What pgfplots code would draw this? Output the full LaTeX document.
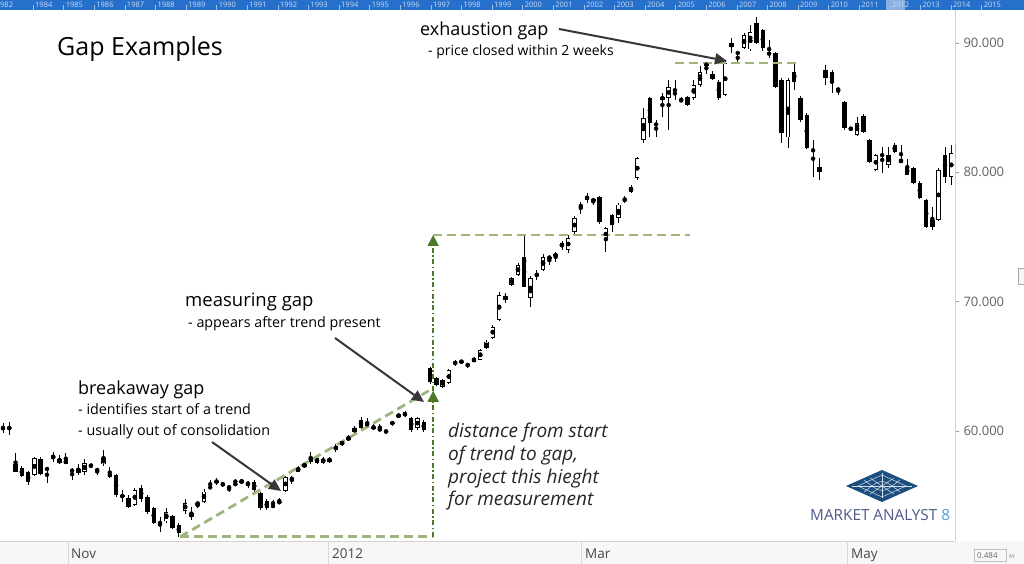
\documentclass[border=0pt]{standalone}
\usepackage{fontspec}
\setmainfont{Open Sans}
\usepackage{pgfplots}
\pgfplotsset{compat=1.18}
\usepackage{pgfplotstable}
\usetikzlibrary{arrows.meta}

\definecolor{lightgreen}{RGB}{158,182,126}
\definecolor{darkgreen}{RGB}{78,122,40}
\definecolor{arrowgray}{RGB}{55,55,55}
\definecolor{bandblue}{RGB}{38,112,204}
\definecolor{logoblue}{RGB}{28,78,128}
\definecolor{logotext}{RGB}{78,90,140}
\definecolor{logoeight}{RGB}{88,152,210}

\pgfplotstableread{
k o h l c
0 60.25 60.6 59.8 60.2
1 60.2 60.7 59.7 60.25
2 57.4 58.3 56.8 56.8
3 57.1 57.3 56.4 56.5
4 56.8 56.9 55.8 56.05
5 56.6 58.0 56.5 57.9
6 57.8 58.0 56.6 56.7
7 57.1 57.2 56.0 57.0
8 58.1 58.4 57.6 57.8
9 57.5 58.1 57.4 57.8
10 57.45 58.3 57.4 57.75
11 56.95 57.1 56.2 56.9
12 57.05 57.4 56.6 56.75
13 56.8 57.8 56.6 57.5
14 57.4 57.5 57.1 57.2
15 57.0 57.1 56.6 56.95
16 57.4 58.5 57.3 57.9
17 56.7 57.2 56.35 56.45
18 56.6 56.7 54.9 55.0
19 55.0 55.4 54.5 54.9
20 54.8 55.0 54.0 54.1
21 54.3 55.6 54.2 55.4
22 55.6 55.8 54.5 54.7
23 54.9 55.0 53.6 53.7
24 54.0 54.1 52.8 52.9
25 52.9 53.3 52.2 52.85
26 53.0 54.0 52.9 53.7
27 53.4 53.5 52.4 52.5
28 52.7 52.9 51.8 52.1
29 53.8 54.7 53.6 54.4
30 53.65 54.1 53.1 53.3
31 54.3 54.5 54.0 54.45
32 54.5 55.5 54.4 55.3
33 55.65 56.2 55.55 55.6
34 56.1 56.35 55.8 56.05
35 55.9 56.05 55.65 55.85
36 55.66 55.7 55.3 55.62
37 55.9 56.3 55.85 55.85
38 56.0 56.3 55.9 56.15
39 55.95 56.15 55.6 55.9
40 56.05 56.2 55.25 55.45
41 55.2 55.3 53.9 54.0
42 54.6 54.7 53.9 54.0
43 54.2 54.65 54.15 54.16
44 54.5 54.8 54.35 54.45
45 55.35 56.5 55.3 56.45
46 56.2 56.5 55.9 56.35
47 56.85 57.3 56.8 57.15
48 57.2 57.6 57.1 57.45
49 58.0 58.4 57.4 57.6
50 57.9 58.0 57.4 57.5
51 57.55 58.0 57.4 57.85
52 57.6 58.0 57.5 57.85
53 58.5 59.0 58.4 58.85
54 58.9 59.3 58.8 59.2
55 59.3 59.7 59.2 59.5
56 59.9 60.4 59.8 60.2
57 60.85 61.1 60.1 60.2
58 60.7 61.0 60.2 60.3
59 60.27 60.5 60.05 60.23
60 60.12 60.5 60.0 60.08
61 59.97 60.0 59.9 59.93
62 60.62 60.8 60.4 60.58
63 61.1 61.35 61.0 61.25
64 61.4 61.5 61.1 61.15
65 61.0 61.1 59.95 60.05
66 60.2 61.1 60.1 61.0
67 60.7 60.8 59.9 60.05
68 64.85 64.95 63.65 63.8
69 64.1 64.2 63.45 63.55
70 63.4 64.0 63.35 63.95
71 63.7 64.8 63.6 64.7
72 65.27 65.45 65.05 65.23
73 65.4 65.45 65.25 65.3
74 65.12 65.25 64.9 65.08
75 65.35 65.7 65.3 65.6
76 65.5 66.35 65.45 66.25
77 66.4 67.0 66.3 66.9
78 67.2 68.2 67.1 68.05
79 68.6 70.7 68.5 70.5
80 70.1 70.7 69.9 70.45
81 71.3 71.9 71.2 71.8
82 72.05 72.95 72.0 72.85
83 73.45 75.15 71.1 71.15
84 70.3 72.0 69.6 71.8
85 72.07 72.45 71.7 72.03
86 72.45 73.7 72.35 73.45
87 73.42 73.6 72.8 73.38
88 73.62 73.85 73.05 73.58
89 74.2 74.7 74.0 74.55
90 74.0 75.15 73.75 74.9
91 75.4 76.6 75.2 76.45
92 77.42 77.7 76.8 77.38
93 78.2 78.4 77.65 77.85
94 77.87 78.0 77.5 77.83
95 78.1 78.2 76.0 76.15
96 74.75 75.8 73.85 75.7
97 76.7 76.8 75.4 75.9
98 76.5 77.6 76.1 77.5
99 77.87 78.2 77.6 77.83
100 78.5 79.0 78.4 78.85
101 79.55 81.2 79.4 81.1
102 82.5 85.0 82.3 84.2
103 85.75 85.8 82.7 83.8
104 83.72 84.05 82.7 83.68
105 85.6 86.1 84.3 85.85
106 85.75 87.1 83.3 86.6
107 86.12 87.1 85.6 86.08
108 85.57 85.8 85.4 85.53
109 85.8 85.9 85.1 85.2
110 85.75 87.1 85.6 86.75
111 86.75 88.2 86.6 87.75
112 88.3 88.5 87.6 88.35
113 87.6 87.8 87.1 87.2
114 87.0 87.1 85.6 85.75
115 86.0 88.6 85.9 88.45
116 89.7 90.4 89.25 90.0
117 89.2 89.25 88.45 89.25
118 89.6 90.8 89.5 90.6
119 89.5 91.4 89.4 90.85
120 91.55 92.0 89.9 90.0
121 91.0 91.1 89.4 89.6
122 89.3 90.2 88.85 89.05
123 89.2 89.3 86.5 86.6
124 87.1 87.3 82.3 83.0
125 82.7 87.3 81.9 87.1
126 87.75 88.5 86.4 87.0
127 85.75 85.9 83.9 84.05
128 84.45 84.6 81.8 81.9
129 81.72 82.5 79.6 81.68
130 80.4 81.1 79.4 80.0
131 87.9 88.3 86.75 87.3
132 87.75 87.9 86.1 86.9
133 86.5 86.6 86.0 86.3
134 85.45 85.5 83.3 83.45
135 83.45 83.5 83.2 83.3
136 82.9 84.3 82.8 83.8
137 84.35 84.5 83.0 83.1
138 82.5 82.6 80.7 80.8
139 80.2 81.45 80.1 81.35
140 81.4 81.95 79.95 81.25
141 80.55 81.95 80.35 81.35
142 82.1 82.25 81.5 81.55
143 80.75 82.1 80.7 81.0
144 80.4 81.0 79.8 79.8
145 80.3 80.4 79.1 79.15
146 79.2 79.3 77.9 78.0
147 77.85 77.9 75.7 75.8
148 76.3 77.3 75.5 75.8
149 76.3 80.3 76.2 80.2
150 81.35 81.95 79.2 79.65
151 79.65 82.1 79.0 81.5
152 81.0 82.3 80.8 82.2
}\candles

\begin{document}
\begin{tikzpicture}
\useasboundingbox (0,0) rectangle (1024bp,564bp);
\fill[white] (0,0) rectangle (1024bp,564bp);
% bottom strip background
\fill[black!3] (0,0) rectangle (1024bp,23bp);

\begin{axis}[
  at={(0bp,23bp)}, anchor=south west,
  width=955bp, height=531bp, scale only axis,
  xmin=-0.48, xmax=151.6, ymin=51.48, ymax=92.55,
  axis x line*=bottom, axis y line*=right,
  axis line style={black!18, line width=0.8bp},
  xtick=\empty,
  ytick={60,70,80,90},
  tick align=outside,
  major tick length=4bp,
  ytick style={black!40, line width=0.6bp},
  yticklabel style={text=black!62, font=\fontsize{13bp}{15bp}\selectfont,
    /pgf/number format/fixed, /pgf/number format/fixed zerofill,
    /pgf/number format/precision=3, /pgf/number format/assume math mode=true,
    xshift=1bp},
]
% wicks
\addplot[only marks, mark=none,
  error bars/.cd, y dir=both, y explicit, error mark=none,
  error bar style={black, line width=0.8bp}]
  table[x=k, y expr={(\thisrow{h}+\thisrow{l})/2},
        y error expr={(\thisrow{h}-\thisrow{l})/2}] {\candles};
% bodies (black)
\addplot[only marks, mark=none,
  error bars/.cd, y dir=both, y explicit, error mark=none,
  error bar style={black, line width=4.4bp}]
  table[x=k, y expr={(\thisrow{o}+\thisrow{c})/2},
        y error expr={max(abs(\thisrow{o}-\thisrow{c})/2,0.045)}] {\candles};
% hollow interior for rising candles
\addplot[only marks, mark=none,
  restrict expr to domain={\thisrow{c}-\thisrow{o}}{0.14:100},
  error bars/.cd, y dir=both, y explicit, error mark=none,
  error bar style={white, line width=2.8bp}]
  table[x=k, y expr={(\thisrow{o}+\thisrow{c})/2},
        y error expr={abs(\thisrow{c}-\thisrow{o})/2-0.065}] {\candles};

% measurement construction lines
\addplot[lightgreen, line width=2.8bp, dash pattern=on 9bp off 5bp]
  coordinates {(28.2,51.8) (68.5,51.8)};
\addplot[lightgreen, line width=2.8bp, dash pattern=on 9bp off 5bp]
  coordinates {(28.2,51.8) (67.8,63.1)};
\addplot[lightgreen, line width=2.8bp, dash pattern=on 9bp off 5bp]
  coordinates {(68.5,75.15) (109.4,75.15)};
\addplot[lightgreen, line width=2.8bp, dash pattern=on 9bp off 5bp]
  coordinates {(107.0,88.45) (126.9,88.45)};
\addplot[darkgreen, line width=1.8bp, dash pattern=on 5bp off 2.5bp on 1.5bp off 2.5bp,
  -{Triangle[length=11bp,width=11bp]}]
  coordinates {(68.5,51.8) (68.5,63.1)};
\addplot[darkgreen, line width=1.8bp, dash pattern=on 5bp off 2.5bp on 1.5bp off 2.5bp,
  -{Triangle[length=11bp,width=11bp]}]
  coordinates {(68.5,63.1) (68.5,75.15)};
\end{axis}

% top timeline band
\fill[bandblue] (0,554bp) rectangle (1024bp,564bp);
\fill[white, opacity=0.45] (886bp,554bp) rectangle (905bp,564bp);
\node[anchor=base west, inner sep=0, text=white!75!bandblue,
  font=\fontsize{7.5bp}{8bp}\selectfont] at (0bp,556bp) {982};
\foreach \yr [count=\i from 0] in {1984,...,2015}{
  \draw[white!55!bandblue, line width=0.4bp] ({(33+\i*30.6)*1bp},554bp) -- ++(0,5bp);
  \node[anchor=base west, inner sep=0, text=white!75!bandblue,
    font=\fontsize{7.5bp}{8bp}\selectfont] at ({(35+\i*30.6)*1bp},556bp) {\yr};
}

% bottom strip separators and month labels
\foreach \px in {68,328,581,847}{
  \draw[black!15, line width=0.8bp] (\px bp,0) -- (\px bp,23bp);
}
\begin{scope}[every node/.style={anchor=base west, inner sep=0, text=black!72,
    font=\fontsize{13.5bp}{15bp}\selectfont}]
\node at (71bp,5.5bp) {Nov};
\node at (332bp,5.5bp) {2012};
\node at (585bp,5.5bp) {Mar};
\node at (851bp,5.5bp) {May};
\end{scope}
\draw[black!25, line width=0.6bp] (974bp,3bp) rectangle (1006bp,15bp);
\node[anchor=base west, inner sep=0, text=black!60, font=\fontsize{8bp}{9bp}\selectfont]
  at (977bp,5.5bp) {0.484};
\node[anchor=base west, inner sep=0, text=black!60, font=\fontsize{5bp}{6bp}\selectfont]
  at (1009bp,6bp) {XY};
% small tab at right edge
\draw[black!35, line width=0.6bp, fill=black!4] (1024bp,296bp) -- (1018bp,296bp) -- (1018bp,280bp) -- (1024bp,280bp);

% title and annotation texts
\node[anchor=base west, inner sep=0, font=\fontsize{25bp}{29bp}\selectfont] at (57bp,508bp) {Gap Examples};
\node[anchor=base west, inner sep=0, font=\fontsize{18bp}{22bp}\selectfont] at (420bp,528bp) {exhaustion gap};
\node[anchor=base west, inner sep=0, font=\fontsize{14bp}{16bp}\selectfont] at (428bp,508bp) {- price closed within 2 weeks};
\node[anchor=base west, inner sep=0, font=\fontsize{18.5bp}{22bp}\selectfont] at (185bp,257bp) {measuring gap};
\node[anchor=base west, inner sep=0, font=\fontsize{14.3bp}{16bp}\selectfont] at (188bp,236bp) {- appears after trend present};
\node[anchor=base west, inner sep=0, font=\fontsize{18bp}{22bp}\selectfont] at (78bp,169bp) {breakaway gap};
\node[anchor=base west, inner sep=0, font=\fontsize{14.3bp}{16bp}\selectfont] at (78bp,149bp) {- identifies start of a trend};
\node[anchor=base west, inner sep=0, font=\fontsize{14.3bp}{16bp}\selectfont] at (78bp,128bp) {- usually out of consolidation};
\begin{scope}[every node/.style={anchor=base west, inner sep=0,
    font=\fontsize{19bp}{22bp}\itshape\selectfont, text=black!85}]
\node at (448bp,126bp) {distance from start};
\node at (448bp,103bp) {of trend to gap,};
\node at (448bp,80bp) {project this hieght};
\node at (448bp,58bp) {for measurement};
\end{scope}

% annotation arrows
\draw[arrowgray, line width=2bp, -{Triangle[length=12bp,width=11bp]}] (559bp,535bp) -- (727bp,503bp);
\draw[arrowgray, line width=2bp, -{Triangle[length=12bp,width=11bp]}] (335bp,226bp) -- (424bp,162bp);
\draw[arrowgray, line width=2bp, -{Triangle[length=12bp,width=11bp]}] (212bp,122bp) -- (281bp,73bp);

% logo
\fill[logoblue] (846bp,78bp) -- (882bp,94bp) -- (918bp,78bp) -- (882bp,62bp) -- cycle;
\begin{scope}[white, line width=0.5bp, opacity=0.8]
\draw (858bp,78bp) -- (882bp,89bp) -- (906bp,78bp) -- (882bp,67bp) -- cycle;
\draw (852bp,78bp) -- (912bp,78bp);
\draw (882bp,66bp) -- (882bp,91bp);
\draw (864bp,72bp) .. controls (882bp,86bp) .. (900bp,72bp);
\draw (864bp,84bp) .. controls (882bp,70bp) .. (900bp,84bp);
\draw (870bp,86bp) -- (894bp,70bp);
\draw (870bp,70bp) -- (894bp,86bp);
\end{scope}
\node[anchor=base west, inner sep=0, text=logotext, font=\fontsize{15.3bp}{18bp}\selectfont]
  at (810bp,43bp) {MARKET ANALYST \textcolor{logoeight}{8}};
\end{tikzpicture}
\end{document}
